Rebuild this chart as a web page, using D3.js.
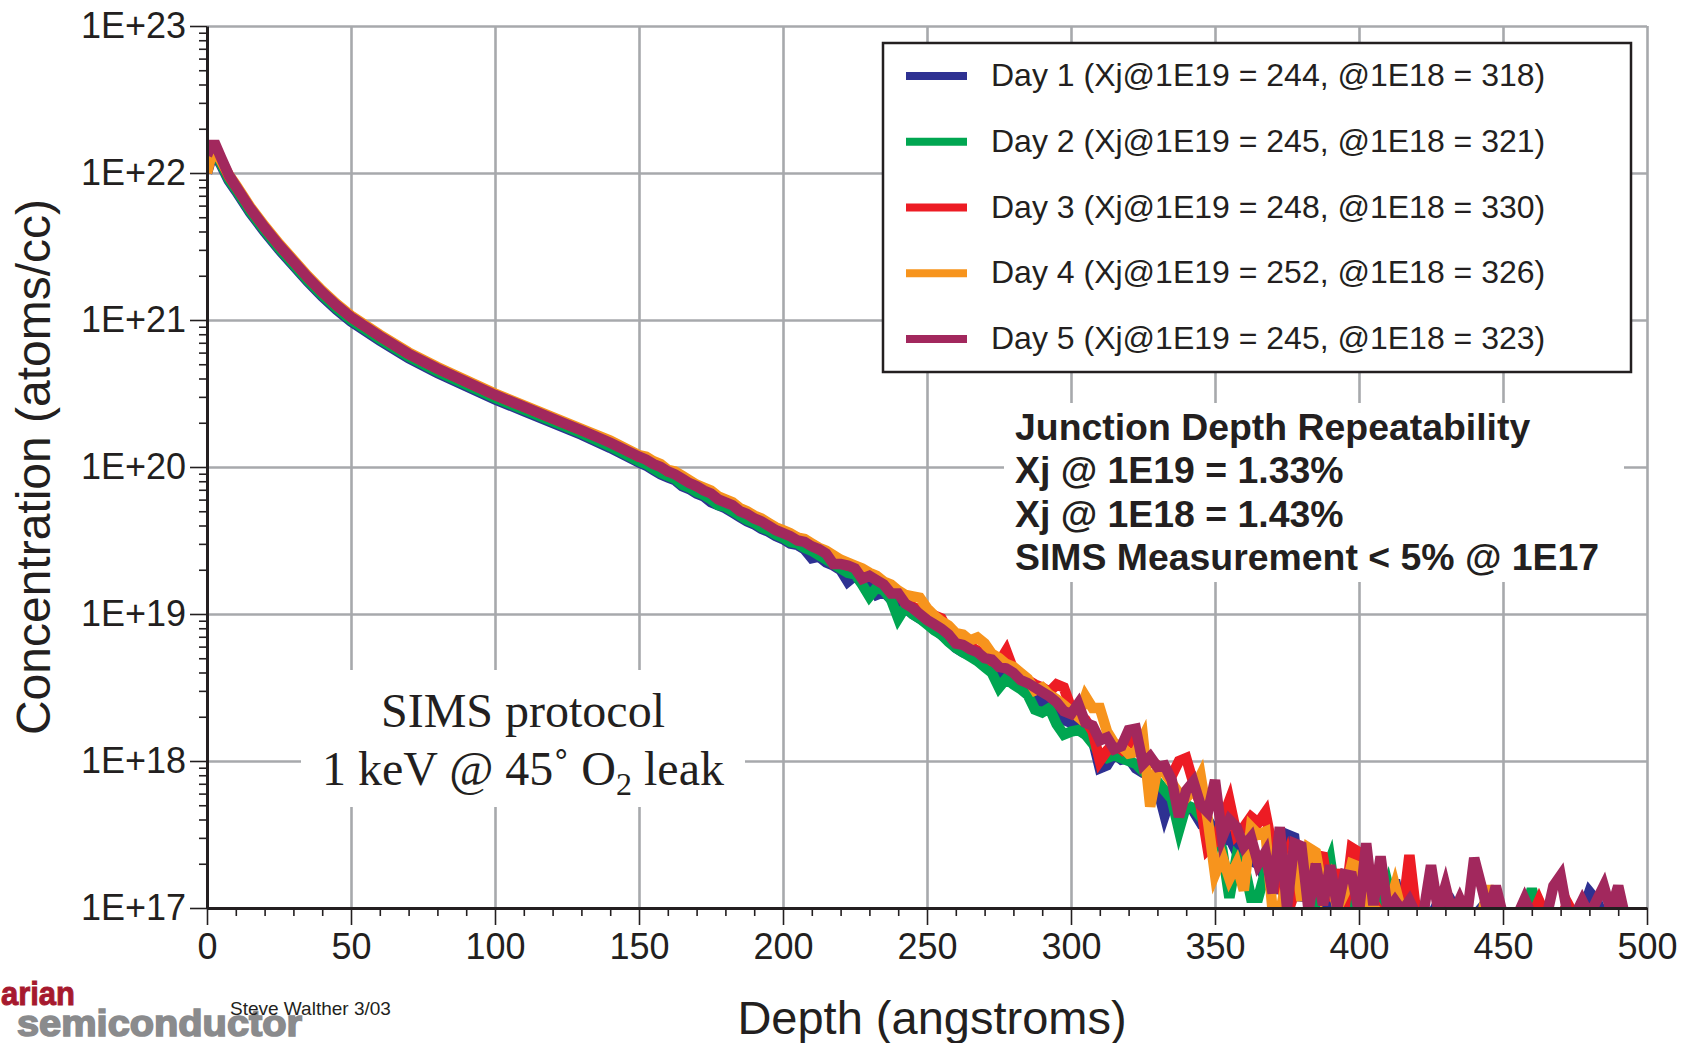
<!DOCTYPE html>
<html>
<head>
<meta charset="utf-8">
<script src="https://cdn.jsdelivr.net/npm/d3@7/dist/d3.min.js"></script>
<style>
  body { margin: 0; background: #ffffff; }
  svg { display: block; }
  text { font-family: "Liberation Sans", Arial, Helvetica, sans-serif; fill: #231f20; }
</style>
</head>
<body>
<div id="chart"></div>
<script>
// depth in angstroms (shared by all five profiles)
var depth = [0, 1.5, 3, 5, 7.5, 10, 15, 20, 25, 30, 35, 40, 45, 50,
  60, 70, 80, 90, 100, 110, 120, 130, 140,
  150, 152.5, 155, 157.5, 160, 162.5, 165, 167.5, 170, 172.5, 175, 177.5, 180,
  182.5, 185, 187.5, 190, 192.5, 195, 197.5, 200, 202.5, 205, 207.5, 210,
  212.5, 215, 217.5, 220, 222.5, 225, 227.5, 230, 232.5, 235, 237.5, 240,
  242.5, 245, 247.5, 250,
  252.5, 255, 257.5, 260, 262.5, 265, 267.5, 270, 272.5, 275, 277.5, 280,
  282.5, 285, 287.5, 290, 292.5, 295, 297.5, 300, 302.5, 305, 307.5, 310,
  312.5, 315, 317.5, 320, 322.5, 325, 327.5, 330, 332.5, 335, 337.5, 340,
  342.5, 345, 347.5, 350, 352.5, 355, 357.5, 360, 362.5, 365, 367.5, 370,
  372.5, 375, 377.5, 380, 382.5, 385, 387.5, 390, 392.5, 395, 397.5, 400,
  402.5, 405, 407.5, 410, 412.5, 415, 417.5, 420, 422.5, 425, 427.5, 430,
  432.5, 435, 437.5, 440, 442.5, 445, 447.5, 450, 452.5, 455, 457.5, 460,
  462.5, 465, 467.5, 470, 472.5, 475, 477.5, 480, 482.5, 485, 487.5, 490, 492.5];

// log10 of concentration (atoms/cc), one value per depth
var logDay1 = [22.00, 22.10, 22.12, 22.05, 21.95, 21.88, 21.73, 21.60, 21.48, 21.37, 21.26, 21.16, 21.07, 20.99,
  20.86, 20.74, 20.64, 20.55, 20.46, 20.38, 20.30, 20.22, 20.13,
  20.03, 20.01, 19.98, 19.95, 19.93, 19.91, 19.87, 19.85, 19.82, 19.80, 19.76, 19.74, 19.72,
  19.69, 19.66, 19.63, 19.61, 19.58, 19.56, 19.53, 19.51, 19.48, 19.47, 19.44, 19.38,
  19.39, 19.35, 19.33, 19.30, 19.22, 19.26, 19.22, 19.20, 19.13, 19.15, 19.10, 19.08,
  19.04, 19.00, 18.97, 18.94,
  18.90, 18.86, 18.82, 18.77, 18.74, 18.72, 18.69, 18.66, 18.62, 18.60, 18.57, 18.53,
  18.50, 18.46, 18.44, 18.40, 18.37, 18.33, 18.28, 18.26, 18.22, 18.18, 18.15, 17.95,
  17.97, 18.05, 18.01, 18.02, 17.95, 17.92, 17.90, 17.82, 17.63, 17.78, 17.72, 17.70,
  17.66, 17.58, 17.60, 17.52, 17.45, 17.48, 17.38, 17.40, 17.32, 17.30, 17.20, 17.30,
  17.10, 17.50, 17.48, 17.05, 17.20, 16.95, 17.15, 16.96, 17.10, 16.95, 17.02, 16.95,
  17.05, 16.95, 17.10, 16.96, 17.19, 16.95, 16.98, 16.94, 17.00, 16.94, 17.04, 16.94,
  17.03, 16.94, 16.96, 16.94, 17.00, 16.94, 16.94, 16.94, 16.94, 16.94, 16.97, 16.94,
  16.96, 16.94, 16.94, 16.96, 16.94, 16.94, 16.97, 17.11, 17.05, 16.94, 16.97, 16.94, 16.97];

var logDay2 = [22.02, 22.12, 22.14, 22.06, 21.96, 21.89, 21.74, 21.61, 21.49, 21.38, 21.27, 21.17, 21.08, 21.00,
  20.87, 20.75, 20.65, 20.56, 20.47, 20.39, 20.31, 20.23, 20.14,
  20.04, 20.02, 19.99, 19.96, 19.94, 19.92, 19.88, 19.86, 19.83, 19.81, 19.78, 19.74, 19.73,
  19.70, 19.67, 19.64, 19.62, 19.59, 19.57, 19.54, 19.52, 19.49, 19.48, 19.45, 19.43,
  19.40, 19.37, 19.34, 19.31, 19.28, 19.27, 19.20, 19.12, 19.18, 19.16, 19.10, 18.97,
  19.05, 19.00, 18.97, 18.93,
  18.89, 18.86, 18.81, 18.77, 18.74, 18.71, 18.68, 18.64, 18.60, 18.50, 18.56, 18.52,
  18.49, 18.45, 18.35, 18.33, 18.36, 18.25, 18.18, 18.20, 18.21, 18.18, 18.12, 18.05,
  18.02, 18.04, 18.02, 18.00, 17.98, 17.93, 17.90, 17.86, 17.80, 17.74, 17.53, 17.70,
  17.68, 17.62, 17.55, 17.50, 17.40, 17.07, 17.35, 17.30, 17.07, 17.07, 17.25, 17.15,
  17.20, 17.05, 17.25, 17.30, 17.10, 16.98, 17.20, 17.33, 17.00, 16.96, 17.05, 16.95,
  17.00, 16.96, 17.02, 17.16, 16.96, 16.94, 16.94, 16.94, 16.96, 16.94, 16.94, 16.95,
  16.94, 16.94, 16.94, 16.96, 16.94, 16.94, 16.94, 16.94, 16.94, 16.94, 16.94, 17.13,
  16.94, 16.94, 16.94, 16.94, 16.94, 16.94, 16.94, 16.94, 16.94, 16.94, 16.94, 16.94, 16.94];

var logDay3 = [22.02, 22.13, 22.15, 22.08, 21.98, 21.91, 21.76, 21.63, 21.51, 21.40, 21.29, 21.19, 21.10, 21.02,
  20.89, 20.77, 20.67, 20.58, 20.49, 20.41, 20.33, 20.25, 20.17,
  20.07, 20.06, 20.03, 20.01, 19.97, 19.96, 19.93, 19.90, 19.87, 19.85, 19.83, 19.79, 19.77,
  19.75, 19.71, 19.69, 19.66, 19.64, 19.61, 19.58, 19.56, 19.54, 19.52, 19.50, 19.47,
  19.44, 19.42, 19.38, 19.36, 19.33, 19.32, 19.29, 19.27, 19.24, 19.21, 19.17, 19.14,
  19.10, 19.05, 19.03, 18.98,
  18.99, 18.97, 18.88, 18.84, 18.80, 18.78, 18.75, 18.72, 18.68, 18.67, 18.75, 18.62,
  18.58, 18.55, 18.52, 18.50, 18.47, 18.52, 18.50, 18.36, 18.32, 18.28, 18.20, 18.00,
  18.07, 18.12, 18.08, 18.15, 18.10, 18.05, 18.00, 17.97, 17.93, 17.90, 18.00, 18.02,
  17.85, 17.70, 17.40, 17.45, 17.60, 17.73, 17.50, 17.55, 17.62, 17.58, 17.65, 17.40,
  17.20, 17.35, 17.10, 17.25, 17.18, 17.36, 17.35, 17.05, 17.26, 17.00, 17.41, 17.38,
  17.00, 17.04, 16.96, 16.95, 16.98, 16.95, 17.36, 16.94, 16.94, 16.96, 16.94, 16.94,
  16.94, 16.94, 16.94, 16.94, 16.94, 16.94, 16.94, 16.94, 16.94, 16.94, 16.94, 16.94,
  17.05, 16.94, 16.94, 16.94, 17.03, 16.94, 16.94, 16.94, 16.94, 16.94, 16.94, 16.94, 16.94];

var logDay4 = [22.00, 22.12, 22.14, 22.08, 21.99, 21.92, 21.77, 21.64, 21.52, 21.41, 21.30, 21.20, 21.11, 21.03,
  20.90, 20.78, 20.68, 20.59, 20.50, 20.42, 20.34, 20.26, 20.18,
  20.08, 20.07, 20.04, 20.02, 19.98, 19.97, 19.94, 19.91, 19.88, 19.86, 19.84, 19.80, 19.78,
  19.76, 19.72, 19.70, 19.67, 19.65, 19.62, 19.59, 19.57, 19.55, 19.52, 19.51, 19.48,
  19.45, 19.43, 19.40, 19.37, 19.35, 19.33, 19.31, 19.28, 19.26, 19.22, 19.20, 19.16,
  19.13, 19.12, 19.11, 19.04,
  18.99, 18.95, 18.92, 18.87, 18.86, 18.82, 18.84, 18.80, 18.73, 18.70, 18.66, 18.64,
  18.60, 18.56, 18.48, 18.50, 18.45, 18.42, 18.38, 18.34, 18.30, 18.44, 18.36, 18.36,
  18.20, 18.12, 18.10, 18.05, 18.06, 18.16, 17.69, 17.95, 17.92, 17.85, 17.78, 17.75,
  17.80, 17.90, 17.60, 17.23, 17.35, 17.20, 17.30, 17.12, 17.55, 17.50, 17.52, 16.98,
  16.96, 17.20, 17.40, 17.05, 17.41, 17.38, 17.10, 17.20, 17.00, 17.10, 17.30, 17.28,
  16.98, 17.00, 16.96, 16.98, 17.15, 16.96, 16.94, 16.94, 16.94, 16.94, 16.94, 16.94,
  16.94, 16.94, 16.94, 16.94, 16.94, 17.15, 16.96, 16.94, 16.94, 16.94, 16.94, 16.94,
  16.94, 16.94, 16.94, 16.94, 16.94, 16.94, 16.94, 16.94, 16.94, 16.94, 16.94, 16.94, 16.94];

var logDay5 = [22.12, 22.19, 22.19, 22.10, 21.99, 21.91, 21.76, 21.63, 21.51, 21.40, 21.29, 21.19, 21.10, 21.02,
  20.89, 20.77, 20.67, 20.58, 20.49, 20.41, 20.33, 20.25, 20.165,
  20.07, 20.05, 20.02, 20.00, 19.97, 19.95, 19.92, 19.89, 19.87, 19.84, 19.82, 19.78, 19.76,
  19.74, 19.70, 19.68, 19.65, 19.63, 19.60, 19.57, 19.55, 19.53, 19.50, 19.49, 19.46,
  19.44, 19.41, 19.34, 19.34, 19.33, 19.31, 19.24, 19.26, 19.23, 19.20, 19.14, 19.14,
  19.07, 19.04, 19.00, 18.96,
  18.93, 18.90, 18.86, 18.80, 18.79, 18.76, 18.74, 18.70, 18.69, 18.64, 18.63, 18.60,
  18.55, 18.53, 18.50, 18.47, 18.44, 18.40, 18.34, 18.32, 18.39, 18.26, 18.24, 18.14,
  18.16, 18.08, 18.10, 18.21, 18.22, 17.98, 18.03, 17.96, 17.97, 17.87, 17.62, 17.80,
  17.86, 17.70, 17.65, 17.87, 17.48, 17.60, 17.55, 17.42, 17.48, 17.30, 17.38, 17.10,
  17.55, 17.00, 17.44, 17.42, 16.98, 17.30, 17.02, 17.29, 17.00, 17.23, 17.22, 16.97,
  17.44, 17.02, 17.35, 16.98, 17.05, 16.98, 17.05, 16.95, 16.98, 17.29, 16.98, 17.15,
  16.95, 17.06, 16.95, 17.34, 17.15, 16.95, 17.15, 16.95, 16.93, 16.95, 17.06, 16.95,
  16.95, 16.93, 17.15, 17.22, 16.95, 16.95, 17.05, 16.95, 17.05, 17.15, 16.98, 17.15, 16.93];

var dayLabels = [
  "Day 1 (Xj@1E19 = 244, @1E18 = 318)",
  "Day 2 (Xj@1E19 = 245, @1E18 = 321)",
  "Day 3 (Xj@1E19 = 248, @1E18 = 330)",
  "Day 4 (Xj@1E19 = 252, @1E18 = 326)",
  "Day 5 (Xj@1E19 = 245, @1E18 = 323)"
];
var dayColors = ["#2e3192", "#00a651", "#ed1c24", "#f7941d", "#a2285d"];

var yExponents = [17, 18, 19, 20, 21, 22, 23];
var xTicks = [0, 50, 100, 150, 200, 250, 300, 350, 400, 450, 500];

var noteLines = [
  "Junction Depth Repeatability",
  "Xj @ 1E19 = 1.33%",
  "Xj @ 1E18 = 1.43%",
  "SIMS Measurement < 5% @ 1E17"
];

var svgWidth = 1692;
var svgHeight = 1043;

var margin = {
  top: 26,
  right: 45,
  bottom: 135,
  left: 207
};

var width = svgWidth - margin.left - margin.right;
var height = svgHeight - margin.top - margin.bottom;

var svg = d3.select("#chart")
  .append("svg")
  .attr("width", svgWidth)
  .attr("height", svgHeight);

svg.append("rect")
  .attr("width", svgWidth)
  .attr("height", svgHeight)
  .attr("fill", "#ffffff");

var chartGroup = svg.append("g")
  .attr("transform", `translate(${margin.left}, ${margin.top})`);

// scales
var xLinearScale = d3.scaleLinear()
  .domain([0, 500])
  .range([0, width]);

var yLogScale = d3.scaleLog()
  .domain([1e17, 1e23])
  .range([height, 0]);

var yMajor = yExponents.map(e => Math.pow(10, e));
var yMinor = [];
yExponents.slice(0, -1).forEach(function(e) {
  for (var k = 2; k <= 9; k++) yMinor.push(k * Math.pow(10, e));
});
var xMinor = d3.range(10, 500, 10).filter(v => v % 50 !== 0);

// grid lines
var gridX = chartGroup.append("g")
  .call(d3.axisBottom(xLinearScale).tickValues(xTicks.slice(1)).tickSize(height).tickFormat(""));
var gridY = chartGroup.append("g")
  .call(d3.axisLeft(yLogScale).tickValues(yMajor.slice(1)).tickSize(-width).tickFormat(""));
[gridX, gridY].forEach(function(g) {
  g.select(".domain").remove();
  g.selectAll("line").attr("stroke", "#a7a9ac").attr("stroke-width", 2.6);
});

// white boxes behind the two annotations
svg.append("rect").attr("x", 301).attr("y", 670).attr("width", 444).attr("height", 137).attr("fill", "#ffffff");
svg.append("rect").attr("x", 1004).attr("y", 403).attr("width", 620).attr("height", 179).attr("fill", "#ffffff");

// profiles
chartGroup.append("clipPath")
  .attr("id", "plotClip")
  .append("rect")
  .attr("x", 0)
  .attr("y", -10)
  .attr("width", width)
  .attr("height", height + 10);

var lineGen = d3.line()
  .x(d => xLinearScale(d[0]))
  .y(d => yLogScale(Math.pow(10, d[1])));

var series = [logDay1, logDay2, logDay3, logDay4, logDay5];

chartGroup.append("g")
  .attr("clip-path", "url(#plotClip)")
  .selectAll("path")
  .data(series)
  .enter()
  .append("path")
  .attr("d", vals => lineGen(depth.map((d, i) => [d, vals[i]])))
  .attr("fill", "none")
  .attr("stroke", (d, i) => dayColors[i])
  .attr("stroke-width", 10.5)
  .attr("stroke-miterlimit", 4);

// axes
var leftAxis = chartGroup.append("g")
  .call(d3.axisLeft(yLogScale)
    .tickValues(yMajor)
    .tickSize(17)
    .tickSizeOuter(0)
    .tickPadding(4)
    .tickFormat(d => "1E+" + Math.round(Math.log10(d))));

var leftMinor = chartGroup.append("g")
  .call(d3.axisLeft(yLogScale).tickValues(yMinor).tickSize(8).tickFormat(""));

var bottomAxis = chartGroup.append("g")
  .attr("transform", `translate(0, ${height})`)
  .call(d3.axisBottom(xLinearScale)
    .tickValues(xTicks)
    .tickSize(17)
    .tickSizeOuter(0)
    .tickPadding(8));

var bottomMinor = chartGroup.append("g")
  .attr("transform", `translate(0, ${height})`)
  .call(d3.axisBottom(xLinearScale).tickValues(xMinor).tickSize(8).tickFormat(""));

[leftMinor, bottomMinor].forEach(g => g.select(".domain").remove());
[leftAxis, bottomAxis].forEach(function(g) {
  g.select(".domain").attr("stroke", "#231f20").attr("stroke-width", 3);
});
[leftAxis, bottomAxis, leftMinor, bottomMinor].forEach(function(g) {
  g.selectAll(".tick line").attr("stroke", "#231f20").attr("stroke-width", 1.6);
  g.selectAll("text")
    .attr("font-size", 36)
    .attr("font-family", "Liberation Sans, Arial, sans-serif")
    .attr("fill", "#231f20");
});

// axis titles
svg.append("text")
  .attr("transform", "translate(50, 467) rotate(-90)")
  .attr("text-anchor", "middle")
  .attr("font-size", 48)
  .text("Concentration (atoms/cc)");

svg.append("text")
  .attr("x", 932)
  .attr("y", 1034)
  .attr("text-anchor", "middle")
  .attr("font-size", 47)
  .text("Depth (angstroms)");

// legend
var legend = svg.append("g");
legend.append("rect")
  .attr("x", 883)
  .attr("y", 43)
  .attr("width", 748)
  .attr("height", 329)
  .attr("fill", "#ffffff")
  .attr("stroke", "#231f20")
  .attr("stroke-width", 2.5);

var legendRows = legend.selectAll(".row")
  .data(dayLabels)
  .enter()
  .append("g")
  .attr("transform", (d, i) => `translate(0, ${76 + i * 65.75})`);

legendRows.append("line")
  .attr("x1", 906)
  .attr("x2", 967)
  .attr("stroke", (d, i) => dayColors[i])
  .attr("stroke-width", 8);

legendRows.append("text")
  .attr("x", 991)
  .attr("y", 10)
  .attr("font-size", 32)
  .text(d => d);

// repeatability note
svg.append("g").selectAll("text")
  .data(noteLines)
  .enter()
  .append("text")
  .attr("x", 1015)
  .attr("y", (d, i) => 440 + i * 43.3)
  .attr("font-size", 37.4)
  .attr("font-weight", "bold")
  .text(d => d);

// SIMS protocol note
var sims = svg.append("g")
  .attr("font-size", 48)
  .attr("text-anchor", "middle");

sims.append("text")
  .attr("x", 523)
  .attr("y", 727)
  .style("font-family", "Liberation Serif, Times New Roman, serif")
  .text("SIMS protocol");

var simsLine2 = sims.append("text")
  .attr("x", 523)
  .attr("y", 785)
  .style("font-family", "Liberation Serif, Times New Roman, serif");
simsLine2.append("tspan").text("1 keV @ 45\u02DA O");
simsLine2.append("tspan").attr("font-size", 32).attr("dy", 10).text("2");
simsLine2.append("tspan").attr("dy", -10).text(" leak");

// logo and credit at bottom left
svg.append("text")
  .attr("x", 1)
  .attr("y", 1005)
  .attr("font-size", 34)
  .attr("font-weight", "bold")
  .attr("textLength", 74)
  .attr("lengthAdjust", "spacingAndGlyphs")
  .style("fill", "#a6192e")
  .style("stroke", "#a6192e")
  .style("stroke-width", 1)
  .text("arian");

svg.append("text")
  .attr("x", 17)
  .attr("y", 1036)
  .attr("font-size", 36)
  .attr("font-weight", "bold")
  .attr("textLength", 285)
  .attr("lengthAdjust", "spacingAndGlyphs")
  .style("fill", "#8a8b8d")
  .style("stroke", "#8a8b8d")
  .style("stroke-width", 1.6)
  .text("semiconductor");

svg.append("text")
  .attr("x", 230)
  .attr("y", 1015)
  .attr("font-size", 19)
  .text("Steve Walther 3/03");
</script>
</body>
</html>
